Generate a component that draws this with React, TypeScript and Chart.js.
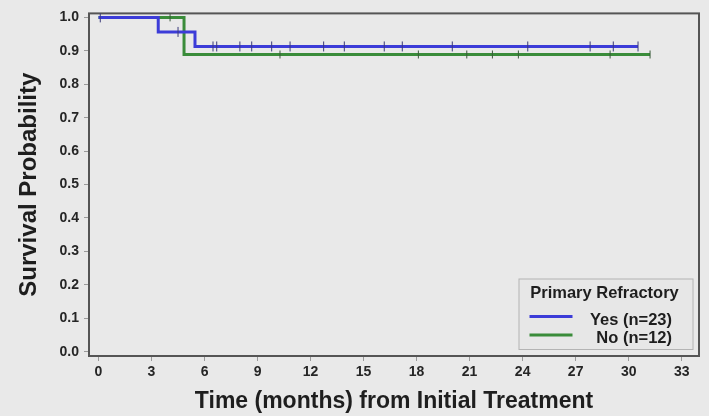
import { useEffect, useRef } from 'react';
import { Chart, registerables } from 'chart.js';

Chart.register(...registerables);

// Axis ticks
const xTicks = [0, 3, 6, 9, 12, 15, 18, 21, 24, 27, 30, 33];
const yTicks = [0, 0.1, 0.2, 0.3, 0.4, 0.5, 0.6, 0.7, 0.8, 0.9, 1.0];

// Kaplan-Meier steps: event times (months) and survival after each event
const yesTimes = [0, 3.38, 5.46, 30.53];
const yesSurvival = [1, 0.9565, 0.913, 0.913];
const noTimes = [0, 4.84, 31.21];
const noSurvival = [1, 0.889, 0.889];

// Censored observations (months)
const yesCensored = [0.1, 4.5, 6.48, 6.69, 8.0, 8.67, 9.8, 10.84, 12.74, 13.91, 16.17, 17.19, 20.02, 24.29, 27.82, 29.13, 30.53];
const noCensored = [4.05, 10.27, 18.1, 20.84, 22.29, 23.76, 28.95, 31.21];

const legendTitle = 'Primary Refractory';
const yesLabel = 'Yes (n=23)';
const noLabel = 'No (n=12)';
const xTitle = 'Time (months) from Initial Treatment';
const yTitle = 'Survival Probability';

const FONT = '"Liberation Sans", Arial, Helvetica, sans-serif';
const BG = '#e9e9e9';
const TEXT = '#1e1e1e';
const BLUE = '#3c3cd8';
const GREEN = '#3a8c3a';

function stepValue(times: number[], surv: number[], t: number): number {
  let v = surv[0];
  for (let i = 0; i < times.length; i++) {
    if (times[i] <= t) v = surv[i];
  }
  return v;
}

const frameAndLegend = {
  id: 'frameAndLegend',
  beforeDatasetsDraw(chart: any) {
    const { ctx, chartArea } = chart;
    ctx.save();
    ctx.strokeStyle = '#555555';
    ctx.lineWidth = 2;
    ctx.strokeRect(chartArea.left, chartArea.top, chartArea.right - chartArea.left, chartArea.bottom - chartArea.top);
    ctx.restore();
  },
  afterDatasetsDraw(chart: any) {
    const { ctx, chartArea } = chart;
    const right = chartArea.right - 5.5;
    const bottom = chartArea.bottom - 6;
    const w = 175;
    const h = 71.5;
    const left = right - w;
    const top = bottom - h;
    ctx.save();
    ctx.fillStyle = '#e7e7e7';
    ctx.fillRect(left, top, w, h);
    ctx.strokeStyle = '#b4b4b4';
    ctx.lineWidth = 1;
    ctx.strokeRect(left + 0.5, top + 0.5, w - 1, h - 1);

    ctx.fillStyle = TEXT;
    ctx.textBaseline = 'middle';
    ctx.textAlign = 'center';
    ctx.font = `bold 16.5px ${FONT}`;
    ctx.fillText(legendTitle, left + w / 2 - 1.5, top + 15);

    const entries = [
      { label: yesLabel, color: BLUE, y: top + 41.5 },
      { label: noLabel, color: GREEN, y: top + 60 },
    ];
    entries.forEach((e) => {
      ctx.strokeStyle = e.color;
      ctx.lineWidth = 3;
      ctx.beginPath();
      ctx.moveTo(left + 11, e.y - 3.5);
      ctx.lineTo(left + 54, e.y - 3.5);
      ctx.stroke();
      ctx.fillStyle = TEXT;
      ctx.textAlign = 'right';
      ctx.font = `bold 16.5px ${FONT}`;
      ctx.fillText(e.label, right - 21.5, e.y);
    });
    ctx.restore();
  },
};

export default function App() {
  const canvasRef = useRef<HTMLCanvasElement | null>(null);

  useEffect(() => {
    document.body.style.margin = '0';
    document.body.style.background = BG;
    const canvas = canvasRef.current;
    if (!canvas) return;

    const yesLine = yesTimes.map((t, i) => ({ x: t, y: yesSurvival[i] }));
    const noLine = noTimes.map((t, i) => ({ x: t, y: noSurvival[i] }));
    const yesMarks = yesCensored.map((t) => ({ x: t, y: stepValue(yesTimes, yesSurvival, t) }));
    const noMarks = noCensored.map((t) => ({ x: t, y: stepValue(noTimes, noSurvival, t) }));

    const chart = new Chart(canvas, {
      type: 'line',
      data: {
        datasets: [
          {
            label: yesLabel,
            data: yesLine,
            borderColor: BLUE,
            borderWidth: 3,
            stepped: 'before',
            pointRadius: 0,
            fill: false,
            order: 2,
          },
          {
            label: 'Yes censored',
            data: yesMarks,
            showLine: false,
            pointStyle: 'line',
            rotation: 90,
            pointRadius: 5,
            pointBorderWidth: 1,
            pointBorderColor: '#3a3a7a',
            order: 1,
          },
          {
            label: noLabel,
            data: noLine,
            borderColor: GREEN,
            borderWidth: 3,
            stepped: 'before',
            pointRadius: 0,
            fill: false,
            order: 4,
          },
          {
            label: 'No censored',
            data: noMarks,
            showLine: false,
            pointStyle: 'line',
            rotation: 90,
            pointRadius: 4,
            pointBorderWidth: 1,
            pointBorderColor: '#3a5a3a',
            order: 3,
          },
        ],
      },
      options: {
        animation: false,
        responsive: false,
        devicePixelRatio: 1,
        events: [],
        layout: { padding: { top: 11, right: 10, left: 0, bottom: 0 } },
        plugins: {
          legend: { display: false },
          tooltip: { enabled: false },
        },
        scales: {
          x: {
            type: 'linear',
            min: -0.5375,
            max: 33.98,
            afterBuildTicks: (scale: any) => {
              scale.ticks = xTicks.map((v) => ({ value: v }));
            },
            afterFit: (scale: any) => {
              scale.height = 60;
            },
            grid: { display: true, drawOnChartArea: false, drawTicks: true, tickLength: 5, color: '#9a9a9a' },
            border: { display: false },
            ticks: {
              padding: 3,
              color: '#262626',
              font: { family: FONT, size: 14, weight: 'bold' },
              callback: (v: any) => String(v),
            },
            title: {
              display: true,
              text: xTitle,
              color: TEXT,
              font: { family: FONT, size: 23, weight: 'bold' },
              padding: { top: 0, bottom: 1 },
            },
          },
          y: {
            type: 'linear',
            min: -0.0128,
            max: 1.0119,
            afterBuildTicks: (scale: any) => {
              scale.ticks = yTicks.map((v) => ({ value: v }));
            },
            afterFit: (scale: any) => {
              scale.width = 89;
            },
            grid: { display: true, drawOnChartArea: false, drawTicks: true, tickLength: 5, color: '#9a9a9a' },
            border: { display: false },
            ticks: {
              padding: 5,
              color: '#262626',
              font: { family: FONT, size: 14, weight: 'bold' },
              callback: (v: any) => Number(v).toFixed(1),
            },
            title: {
              display: true,
              text: yTitle,
              color: TEXT,
              font: { family: FONT, size: 24, weight: 'bold' },
              padding: { top: 15, bottom: 0 },
            },
          },
        },
      },
      plugins: [frameAndLegend],
    });

    return () => chart.destroy();
  }, []);

  return (
    <div style={{ width: 709, height: 416, background: BG }}>
      <canvas ref={canvasRef} width={709} height={416} style={{ display: 'block' }} />
    </div>
  );
}
